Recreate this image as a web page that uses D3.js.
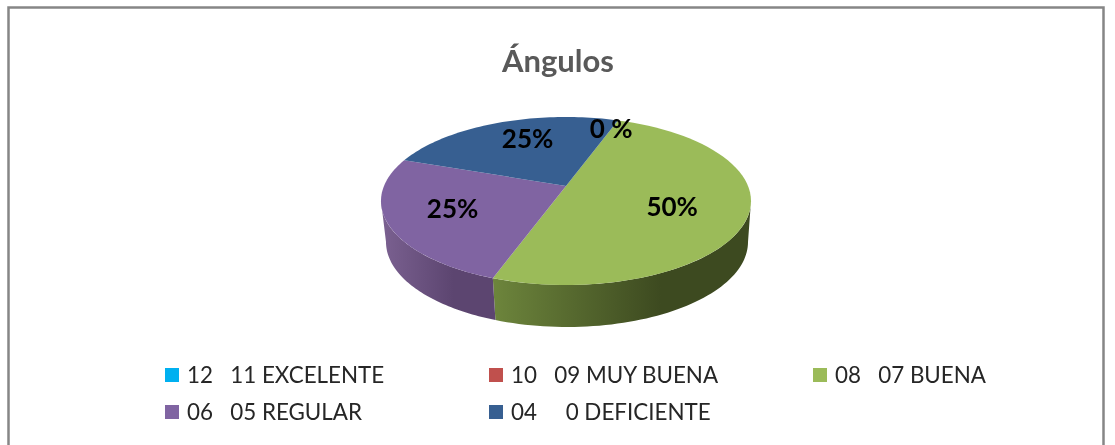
<!DOCTYPE html>
<html>
<head>
<meta charset="utf-8">
<script src="https://cdnjs.cloudflare.com/ajax/libs/d3/7.8.5/d3.min.js"></script>
<style>
html, body { margin: 0; padding: 0; background: #fff; }
svg { display: block; filter: blur(0.45px); }
</style>
</head>
<body>
<svg id="chart" width="1115" height="445"></svg>
<script>
// DATA
var categories = ["12   11 EXCELENTE", "10   09 MUY BUENA", "08   07 BUENA", "06   05 REGULAR", "04     0 DEFICIENTE"];
var values = [0, 0, 50, 25, 25];
var sliceLabels = ["0 %", "", "50%", "25%", "25%"];
var colors = ["#00b0f0", "#c0504d", "#9bbb59", "#8064a2", "#375f91"];
var sideLight = ["#00b0f0", "#c0504d", "#6d853c", "#7b6191", "#375f91"];
var sideDark = ["#00b0f0", "#c0504d", "#3d4a20", "#5c4570", "#375f91"];

// LAYOUT
var svg = d3.select("#chart");
var startDeg = 19.5;
var topFace = { cx: 566, cy: 201, rx: 185, ry: 84 };
var bottomFace = { cx: 567, cy: 242, rx: 181, ry: 85 };
var skew = -0.18; // pushes the pie centre up, fake perspective
var labelRadius = [0.85, 0, 0.61, 0.65, 0.69];
var labelNudge = [0, 0, 4.5, 1.5, 5.5];

svg.append("rect")
    .attr("x", 8.5).attr("y", 7.5)
    .attr("width", 1095).attr("height", 450)
    .attr("fill", "#fff")
    .attr("stroke", "#868686")
    .attr("stroke-width", 2.5);

var defs = svg.append("defs");

// angle (radians, clockwise from top) and radius -> screen point
function project(a, r, face) {
    var X = r * Math.sin(a), Y = -r * Math.cos(a);
    var d = 1 + skew * Y;
    return [
        face.cx + face.rx * X * Math.sqrt(1 - skew * skew) / d,
        face.cy + face.ry * (Y + skew) / d
    ];
}

function samples(a0, a1) {
    return d3.range(0, 61).map(function(i) { return a0 + (a1 - a0) * i / 60; });
}

var pie = d3.pie().sort(null).value(function(d) { return d; })
    .startAngle(startDeg * Math.PI / 180)
    .endAngle((startDeg + 360) * Math.PI / 180);
var slices = pie(values);
var line = d3.line();

// visible part of the side wall is where the rim is below the ellipse centre
var sideFrom = Math.atan2(Math.sqrt(1 - skew * skew), skew);
var sideTo = 2 * Math.PI - sideFrom;

slices.forEach(function(s, i) {
    var a0 = Math.max(s.startAngle, sideFrom),
        a1 = Math.min(s.endAngle, sideTo);
    if (s.value === 0 || a1 <= a0) return;

    var upper = samples(a0, a1).map(function(a) { return project(a, 1, topFace); });
    var lower = samples(a1, a0).map(function(a) { return project(a, 1, bottomFace); });

    // left to right shading; on the right half the wall stays dark
    var x0 = d3.min(upper, function(p) { return p[0]; }),
        x1 = d3.max(upper, function(p) { return p[0]; });
    var grad = defs.append("linearGradient")
        .attr("id", "side" + i)
        .attr("gradientUnits", "userSpaceOnUse")
        .attr("x1", x0).attr("x2", x1).attr("y1", 0).attr("y2", 0);
    grad.append("stop").attr("offset", "0%").attr("stop-color", sideLight[i]);
    grad.append("stop").attr("offset", "65%").attr("stop-color", sideDark[i]);
    grad.append("stop").attr("offset", "100%").attr("stop-color", sideDark[i]);

    svg.append("path")
        .attr("d", line(upper.concat(lower)) + "Z")
        .attr("fill", "url(#side" + i + ")");
});

// top face
slices.forEach(function(s, i) {
    if (s.value === 0) return;
    var rim = samples(s.startAngle, s.endAngle).map(function(a) { return project(a, 1, topFace); });
    var centre = project(0, 0, topFace);
    svg.append("path")
        .attr("d", line([centre].concat(rim)) + "Z")
        .attr("fill", colors[i]);
});

// slice labels
slices.forEach(function(s, i) {
    if (!sliceLabels[i]) return;
    var mid = (s.startAngle + s.endAngle) / 2 + labelNudge[i] * Math.PI / 180;
    var p = project(mid, labelRadius[i], topFace);
    svg.append("text")
        .attr("x", p[0]).attr("y", p[1])
        .attr("dy", "0.35em")
        .attr("text-anchor", "middle")
        .attr("font-family", "Lato, sans-serif")
        .attr("font-size", 26)
        .attr("font-weight", 700)
        .attr("fill", "#000")
        .text(sliceLabels[i]);
});

// title
svg.append("text")
    .attr("x", 558).attr("y", 72)
    .attr("text-anchor", "middle")
    .attr("font-family", "Lato, sans-serif")
    .attr("font-size", 31)
    .attr("font-weight", 700)
    .attr("fill", "#595959")
    .text("Ángulos");

// legend, three to a row
var legendX = d3.scalePoint().domain([0, 1, 2]).range([165, 813]);
var legendY = d3.scalePoint().domain([0, 1]).range([375, 412]);

var legend = svg.selectAll(".legend")
    .data(categories)
  .enter().append("g")
    .attr("class", "legend")
    .attr("transform", function(d, i) {
        return "translate(" + legendX(i % 3) + "," + legendY(Math.floor(i / 3)) + ")";
    });

legend.append("rect")
    .attr("x", 0).attr("y", -7)
    .attr("width", 14).attr("height", 14)
    .attr("fill", function(d, i) { return colors[i]; });

legend.append("text")
    .attr("x", 22).attr("dy", "0.35em")
    .attr("font-family", "Lato, sans-serif")
    .attr("font-size", 22.4)
    .attr("fill", "#262626")
    .attr("xml:space", "preserve")
    .style("white-space", "pre")
    .text(function(d) { return d; });
</script>
</body>
</html>
